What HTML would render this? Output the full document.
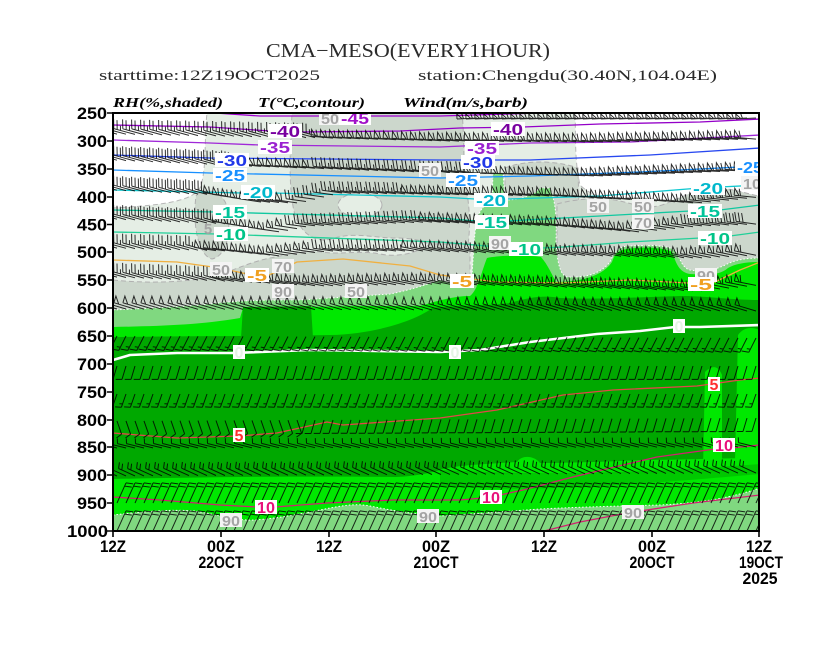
<!DOCTYPE html>
<html><head><meta charset="utf-8"><style>
html,body{margin:0;padding:0;background:#fff;width:837px;height:647px;overflow:hidden}
svg{display:block}
.t{font-family:"Liberation Serif",serif;fill:#2a2a2a}
.h{font-family:"Liberation Serif",serif;font-weight:bold;font-style:italic;font-size:14px;fill:#000}
.ax{font-family:"Liberation Sans",sans-serif;font-weight:bold;font-size:17px;fill:#000}
.lb{font-family:"Liberation Sans",sans-serif;font-weight:bold;font-size:16px}
.rh{font-family:"Liberation Sans",sans-serif;font-weight:bold;font-size:15px;fill:#a4a4a4}
</style></head><body>
<svg width="837" height="647" viewBox="0 0 837 647" xmlns="http://www.w3.org/2000/svg">
<defs><clipPath id="pc"><rect x="113" y="113" width="646" height="418"/></clipPath></defs>
<rect width="837" height="647" fill="#fff"/>

<text class="t" x="266" y="57" font-size="20" textLength="284" lengthAdjust="spacingAndGlyphs">CMA−MESO(EVERY1HOUR)</text>
<text class="t" x="99" y="80" font-size="15" textLength="221" lengthAdjust="spacingAndGlyphs">starttime:12Z19OCT2025</text>
<text class="t" x="418" y="80" font-size="15" textLength="299" lengthAdjust="spacingAndGlyphs">station:Chengdu(30.40N,104.04E)</text>
<text class="h" x="113" y="107" textLength="110" lengthAdjust="spacingAndGlyphs">RH(%,shaded)</text>
<text class="h" x="258" y="107" textLength="107" lengthAdjust="spacingAndGlyphs">T(°C,contour)</text>
<text class="h" x="403" y="107" textLength="125" lengthAdjust="spacingAndGlyphs">Wind(m/s,barb)</text>

<g clip-path="url(#pc)">
<rect x="113" y="113" width="646" height="418" fill="#fff"/>
<rect x="113" y="113" width="646" height="215" fill="#e5eee5"/>
<path d="M113,113 L207,113 C204,140 207,170 200,188 C192,200 170,205 113,208 Z" fill="#fff" stroke="#b8b8b8" stroke-dasharray="5 3"/>
<path d="M575,113 L760,113 L760,197 C745,196 730,188 715,190 C700,192 690,198 670,200 C650,200 640,196 625,198 C605,200 590,195 580,185 C574,160 576,130 575,113 Z" fill="#fff" stroke="#b8b8b8" stroke-dasharray="5 3"/>
<g fill="#ccd7cc" stroke="#b0b0b0" stroke-dasharray="5 3">
<path d="M292,113 L462,113 C465,140 462,170 468,200 C470,215 470,230 468,245 L430,245 C422,240 410,238 395,238 C375,238 355,232 335,238 C318,244 302,236 295,215 C288,190 290,150 292,113 Z"/>
<path d="M196,196 C204,186 224,190 228,210 C231,235 226,256 212,259 C199,256 192,226 196,196 Z"/>
<path d="M113,280 C150,284 190,282 215,276 C235,270 250,262 270,258 C290,254 305,250 322,252 C340,255 360,250 380,254 C400,258 418,252 430,244 L470,244 L470,330 L113,330 Z"/>
<path d="M505,168 C525,160 555,160 578,168 L580,250 L505,250 Z"/>
<path d="M557,204 C575,199 600,197 615,200 C632,203 645,210 662,205 C682,198 700,186 720,188 C740,190 750,195 760,196 L760,330 L557,330 Z"/>
</g>
<ellipse cx="360" cy="205" rx="22" ry="12" fill="#e5eee5" stroke="#b0b0b0" stroke-dasharray="5 3"/>
<path d="M113,310 C150,308 180,307 210,304 C240,300 270,300 300,300 C330,298 360,296 390,294 C410,290 425,285 440,280 C455,285 465,285 472,275 L474,245 C476,215 480,205 492,203 L493,173 L503,173 L505,200 C520,200 535,195 540,188 L550,188 C555,200 557,215 556,240 C557,262 560,275 567,277 C585,278 600,274 610,262 C615,250 620,246 630,246 C650,245 665,245 675,250 C680,258 682,268 690,270 C705,272 715,270 725,265 C735,260 745,258 760,258 L760,340 L113,340 Z" fill="#80d880" stroke="#fff" stroke-dasharray="1.5 2"/>
<path d="M113,327 C160,326 200,325 240,318 L243,308 L310,307 C340,306 380,306 420,306 C440,300 455,296 470,296 C478,290 482,270 487,258 C500,255 530,255 541,257 C548,265 552,275 556,282 C570,282 600,280 612,262 C615,252 620,249 635,248 C650,247 665,248 672,252 C676,262 678,272 690,274 C710,275 720,275 728,268 C735,264 745,262 760,262 L760,531 L113,531 Z" fill="#00e800"/>
<path d="M113,337 C200,336 280,336 330,335 C380,334 420,318 432,308 C460,305 490,306 510,303 C530,297 545,295 560,298 C600,300 640,297 680,296 C710,296 730,300 760,300 L760,458 C720,458 680,460 640,460 C600,462 560,463 540,463 C535,456 522,454 517,462 C480,464 450,466 440,470 C420,476 400,477 393,477 C300,476 200,477 113,479 Z" fill="#00a800"/>
<path d="M243,307 L311,306 L313,338 L241,338 Z" fill="#00a800"/>
<path d="M705,372 C712,365 718,365 722,375 L722,470 L703,470 Z" fill="#00e800"/>
<path d="M738,335 C745,325 755,328 760,330 L760,462 L735,462 Z" fill="#00e800"/>
<path d="M440,470 C520,474 600,476 760,464 L760,474 C600,488 520,492 440,486 Z" fill="#00c800"/>
<path d="M113,515 C140,512 170,509 195,511 C215,514 235,521 255,520 C280,518 300,514 320,510 C340,506 355,503 370,506 C390,510 410,514 440,516 C470,514 500,512 540,509 C580,507 620,506 660,505 C700,503 730,498 760,488 L760,531 L113,531 Z" fill="#80d880" stroke="#fff" stroke-dasharray="1.5 2"/>

<g fill="none" stroke-linejoin="round" stroke-width="1.3">
<polyline stroke="#a000d0" points="215,113 260,116 440,116 540,113"/>
<polyline stroke="#9400c8" points="113,125 210,127 270,131 300,132 400,131 460,128 523,127 600,124 700,122 760,119"/>
<polyline stroke="#a028d8" points="113,140 210,143 260,145 440,147 530,143 630,142 760,135"/>
<polyline stroke="#2848f0" points="113,155 210,158 440,160 530,160 650,155 760,148"/>
<polyline stroke="#1890ff" points="113,170 210,173 440,178 530,176 640,172 760,166"/>
<polyline stroke="#10c8d0" points="113,190 242,193 273,193 440,197 475,199 507,199 600,196 700,188 760,185"/>
<polyline stroke="#10c8a0" points="113,210 215,212 440,218 477,221 507,221 600,216 690,211 720,210 760,205"/>
<polyline stroke="#20d098" points="113,232 217,234 440,242 510,248 542,248 563,247 630,242 700,238 730,236 760,232"/>
<polyline stroke="#f0b040" points="113,260 177,262 220,268 247,274 267,276 297,262 343,259 410,266 440,275 497,282 563,283 630,280 688,283 715,282 740,270 760,262"/>
<polyline stroke="#ffffff" stroke-width="2.6" points="113,360 130,355 177,353 233,353 310,350 440,352 480,350 530,342 597,334 640,331 675,327 700,327 760,325"/>
<polyline stroke="#e04848" points="113,433 177,438 239,436 277,433 327,422 343,425 440,418 497,410 563,395 613,390 697,386 740,380 760,378"/>
<polyline stroke="#d02070" points="113,497 160,500 220,505 258,507 275,507 327,503 393,500 460,500 482,498 500,495 523,490 573,477 623,465 657,457 715,449 733,448 759,445"/>
<polyline stroke="#d02070" points="544,531 580,522 627,513 693,503 760,495"/>
</g>

<path id="barbs" d="" fill="none" stroke="#000" stroke-width="1" stroke-opacity="0.82"/>

<g class="rh">
<rect x="319" y="111" width="22" height="14" fill="#f4f4f4"/><text x="330" y="124" text-anchor="middle" textLength="18" lengthAdjust="spacingAndGlyphs">50</text>
<rect x="419" y="163" width="22" height="14" fill="#f4f4f4"/><text x="430" y="176" text-anchor="middle" textLength="18" lengthAdjust="spacingAndGlyphs">50</text>
<rect x="587" y="199" width="22" height="14" fill="#f4f4f4"/><text x="598" y="212" text-anchor="middle" textLength="18" lengthAdjust="spacingAndGlyphs">50</text>
<rect x="632" y="199" width="22" height="14" fill="#f4f4f4"/><text x="643" y="212" text-anchor="middle" textLength="18" lengthAdjust="spacingAndGlyphs">50</text>
<rect x="632" y="215" width="22" height="14" fill="#f4f4f4"/><text x="643" y="228" text-anchor="middle" textLength="18" lengthAdjust="spacingAndGlyphs">70</text>
<rect x="741" y="176" width="22" height="14" fill="#f4f4f4"/><text x="752" y="189" text-anchor="middle" textLength="18" lengthAdjust="spacingAndGlyphs">10</text>
<rect x="210" y="262" width="22" height="14" fill="#f4f4f4"/><text x="221" y="275" text-anchor="middle" textLength="18" lengthAdjust="spacingAndGlyphs">50</text>
<rect x="272" y="259" width="22" height="14" fill="#f4f4f4"/><text x="283" y="272" text-anchor="middle" textLength="18" lengthAdjust="spacingAndGlyphs">70</text>
<rect x="272" y="284" width="22" height="14" fill="#f4f4f4"/><text x="283" y="297" text-anchor="middle" textLength="18" lengthAdjust="spacingAndGlyphs">90</text>
<rect x="345" y="284" width="22" height="14" fill="#f4f4f4"/><text x="356" y="297" text-anchor="middle" textLength="18" lengthAdjust="spacingAndGlyphs">50</text>
<rect x="489" y="236" width="22" height="14" fill="#f4f4f4"/><text x="500" y="249" text-anchor="middle" textLength="18" lengthAdjust="spacingAndGlyphs">90</text>
<rect x="695" y="268" width="22" height="14" fill="#f4f4f4"/><text x="706" y="281" text-anchor="middle" textLength="18" lengthAdjust="spacingAndGlyphs">90</text>
<rect x="220" y="513" width="22" height="14" fill="#f4f4f4"/><text x="231" y="526" text-anchor="middle" textLength="18" lengthAdjust="spacingAndGlyphs">90</text>
<rect x="417" y="509" width="22" height="14" fill="#f4f4f4"/><text x="428" y="522" text-anchor="middle" textLength="18" lengthAdjust="spacingAndGlyphs">90</text>
<rect x="622" y="505" width="22" height="14" fill="#f4f4f4"/><text x="633" y="518" text-anchor="middle" textLength="18" lengthAdjust="spacingAndGlyphs">90</text>
<text x="208" y="234" text-anchor="middle">5</text>
</g>

<g class="lb" text-anchor="middle">
<rect x="339" y="111" width="32" height="14" fill="#fff"/><text x="355" y="124" fill="#a010c8" textLength="28" lengthAdjust="spacingAndGlyphs">-45</text>
<rect x="268" y="124" width="34" height="14" fill="#fff"/><text x="285" y="137" fill="#7800a0" textLength="30" lengthAdjust="spacingAndGlyphs">-40</text>
<rect x="491" y="122" width="34" height="14" fill="#fff"/><text x="508" y="135" fill="#7800a0" textLength="30" lengthAdjust="spacingAndGlyphs">-40</text>
<rect x="258" y="140" width="34" height="14" fill="#fff"/><text x="275" y="153" fill="#9a20d0" textLength="30" lengthAdjust="spacingAndGlyphs">-35</text>
<rect x="465" y="141" width="34" height="14" fill="#fff"/><text x="482" y="154" fill="#9a20d0" textLength="30" lengthAdjust="spacingAndGlyphs">-35</text>
<rect x="215" y="153" width="34" height="14" fill="#fff"/><text x="232" y="166" fill="#2038e8" textLength="30" lengthAdjust="spacingAndGlyphs">-30</text>
<rect x="461" y="155" width="34" height="14" fill="#fff"/><text x="478" y="168" fill="#2038e8" textLength="30" lengthAdjust="spacingAndGlyphs">-30</text>
<rect x="213" y="168" width="34" height="14" fill="#fff"/><text x="230" y="181" fill="#1890ff" textLength="30" lengthAdjust="spacingAndGlyphs">-25</text>
<rect x="446" y="173" width="34" height="14" fill="#fff"/><text x="463" y="186" fill="#1890ff" textLength="30" lengthAdjust="spacingAndGlyphs">-25</text>
<rect x="735" y="160" width="30" height="14" fill="#fff"/><text x="750" y="173" fill="#1890ff" textLength="26" lengthAdjust="spacingAndGlyphs">-25</text>
<rect x="241" y="185" width="34" height="14" fill="#fff"/><text x="258" y="198" fill="#00b8cc" textLength="30" lengthAdjust="spacingAndGlyphs">-20</text>
<rect x="474" y="193" width="34" height="14" fill="#fff"/><text x="491" y="206" fill="#00b8cc" textLength="30" lengthAdjust="spacingAndGlyphs">-20</text>
<rect x="691" y="181" width="34" height="14" fill="#fff"/><text x="708" y="194" fill="#00b8cc" textLength="30" lengthAdjust="spacingAndGlyphs">-20</text>
<rect x="213" y="205" width="34" height="14" fill="#fff"/><text x="230" y="218" fill="#00c49a" textLength="30" lengthAdjust="spacingAndGlyphs">-15</text>
<rect x="475" y="215" width="34" height="14" fill="#fff"/><text x="492" y="228" fill="#00c49a" textLength="30" lengthAdjust="spacingAndGlyphs">-15</text>
<rect x="688" y="204" width="34" height="14" fill="#fff"/><text x="705" y="217" fill="#00c49a" textLength="30" lengthAdjust="spacingAndGlyphs">-15</text>
<rect x="214" y="227" width="34" height="14" fill="#fff"/><text x="231" y="240" fill="#00c488" textLength="30" lengthAdjust="spacingAndGlyphs">-10</text>
<rect x="509" y="242" width="34" height="14" fill="#fff"/><text x="526" y="255" fill="#00c488" textLength="30" lengthAdjust="spacingAndGlyphs">-10</text>
<rect x="698" y="231" width="34" height="14" fill="#fff"/><text x="715" y="244" fill="#00c488" textLength="30" lengthAdjust="spacingAndGlyphs">-10</text>
<rect x="245" y="268" width="24" height="14" fill="#fff"/><text x="257" y="281" fill="#f0a020" textLength="20" lengthAdjust="spacingAndGlyphs">-5</text>
<rect x="450" y="274" width="24" height="14" fill="#fff"/><text x="462" y="287" fill="#f0a020" textLength="20" lengthAdjust="spacingAndGlyphs">-5</text>
<rect x="688" y="277" width="26" height="14" fill="#fff"/><text x="701" y="290" fill="#f0a020" textLength="22" lengthAdjust="spacingAndGlyphs">-5</text>
<rect x="233" y="345" width="12" height="14" fill="#fff"/><text x="239" y="358" fill="#e4f4e4">0</text>
<rect x="449" y="345" width="12" height="14" fill="#fff"/><text x="455" y="358" fill="#e4f4e4">0</text>
<rect x="673" y="319" width="12" height="14" fill="#fff"/><text x="679" y="332" fill="#e4f4e4">0</text>
<rect x="233" y="428" width="12" height="14" fill="#fff"/><text x="239" y="441" fill="#ff3030">5</text>
<rect x="708" y="377" width="12" height="14" fill="#fff"/><text x="714" y="390" fill="#ff3030">5</text>
<rect x="255" y="500" width="22" height="14" fill="#fff"/><text x="266" y="513" fill="#e8107a" textLength="18" lengthAdjust="spacingAndGlyphs">10</text>
<rect x="480" y="490" width="22" height="14" fill="#fff"/><text x="491" y="503" fill="#e8107a" textLength="18" lengthAdjust="spacingAndGlyphs">10</text>
<rect x="713" y="438" width="22" height="14" fill="#fff"/><text x="724" y="451" fill="#e8107a" textLength="18" lengthAdjust="spacingAndGlyphs">10</text>
</g>
</g>

<rect x="113" y="113" width="646" height="418" fill="none" stroke="#000" stroke-width="2"/>
<g stroke="#000" stroke-width="1.6">
<path d="M107,113H113M107,141H113M107,169H113M107,197H113M107,224.5H113M107,252H113M107,280H113M107,308H113M107,336H113M107,364H113M107,392H113M107,420H113M107,447H113M107,475H113M107,503H113M107,531H113"/>
<path d="M113,531V537M221,531V537M329,531V537M436,531V537M544,531V537M652,531V537M759,531V537"/>
</g>
<g class="ax" text-anchor="end">
<text x="107" y="119" textLength="30" lengthAdjust="spacingAndGlyphs">250</text>
<text x="107" y="147" textLength="30" lengthAdjust="spacingAndGlyphs">300</text>
<text x="107" y="175" textLength="30" lengthAdjust="spacingAndGlyphs">350</text>
<text x="107" y="203" textLength="30" lengthAdjust="spacingAndGlyphs">400</text>
<text x="107" y="230.5" textLength="30" lengthAdjust="spacingAndGlyphs">450</text>
<text x="107" y="258" textLength="30" lengthAdjust="spacingAndGlyphs">500</text>
<text x="107" y="286" textLength="30" lengthAdjust="spacingAndGlyphs">550</text>
<text x="107" y="314" textLength="30" lengthAdjust="spacingAndGlyphs">600</text>
<text x="107" y="342" textLength="30" lengthAdjust="spacingAndGlyphs">650</text>
<text x="107" y="370" textLength="30" lengthAdjust="spacingAndGlyphs">700</text>
<text x="107" y="398" textLength="30" lengthAdjust="spacingAndGlyphs">750</text>
<text x="107" y="426" textLength="30" lengthAdjust="spacingAndGlyphs">800</text>
<text x="107" y="453" textLength="30" lengthAdjust="spacingAndGlyphs">850</text>
<text x="107" y="481" textLength="30" lengthAdjust="spacingAndGlyphs">900</text>
<text x="107" y="509" textLength="30" lengthAdjust="spacingAndGlyphs">950</text>
<text x="108" y="537" textLength="41" lengthAdjust="spacingAndGlyphs">1000</text>
</g>
<g class="ax" text-anchor="middle">
<text x="113" y="552" textLength="26" lengthAdjust="spacingAndGlyphs">12Z</text>
<text x="221" y="552" textLength="28" lengthAdjust="spacingAndGlyphs">00Z</text>
<text x="221" y="568" textLength="45" lengthAdjust="spacingAndGlyphs">22OCT</text>
<text x="329" y="552" textLength="26" lengthAdjust="spacingAndGlyphs">12Z</text>
<text x="436" y="552" textLength="28" lengthAdjust="spacingAndGlyphs">00Z</text>
<text x="436" y="568" textLength="45" lengthAdjust="spacingAndGlyphs">21OCT</text>
<text x="544" y="552" textLength="26" lengthAdjust="spacingAndGlyphs">12Z</text>
<text x="652" y="552" textLength="28" lengthAdjust="spacingAndGlyphs">00Z</text>
<text x="652" y="568" textLength="45" lengthAdjust="spacingAndGlyphs">20OCT</text>
<text x="759" y="552" textLength="26" lengthAdjust="spacingAndGlyphs">12Z</text>
<text x="761" y="568" textLength="44" lengthAdjust="spacingAndGlyphs">19OCT</text>
<text x="760" y="584" textLength="35" lengthAdjust="spacingAndGlyphs">2025</text>
</g>
</svg>
<script>
(function(){
var rows=[
{p:[[113,118],[760,118]],s:[[470,760,-1,0.05,20,1,1,0,5]]},
{p:[[113,134],[330,138],[450,141],[600,142],[760,139]],s:[[113,330,-22,-6,22,0,2,1,9],[330,760,-1,-0.08,22,1,1,0,7]]},
{p:[[113,160],[250,166],[420,172],[600,176],[760,170]],s:[[113,250,-22,-6,22,0,3,0,9],[250,330,-1,-0.1,22,1,1,0,7],[330,480,-22,-3,20,0,2,1,9],[480,760,-1,-0.05,22,1,1,0,7]]},
{p:[[113,190],[220,195],[260,202],[300,203],[340,193],[560,196],[700,203],[760,197]],s:[[113,220,-22,-6,22,0,3,0,9],[220,300,-1,-0.15,22,1,1,0,7],[300,420,-22,-3,20,0,2,1,9],[420,760,-1,-0.1,22,1,1,0,7]]},
{p:[[113,219],[230,224],[280,232],[310,226],[430,222],[560,226],[640,232],[700,226],[760,224]],s:[[113,230,-22,-6,22,0,3,0,9],[230,300,-1,-0.15,22,1,1,0,7],[300,440,-22,-3,20,0,2,1,9],[440,700,-1,-0.15,22,1,1,0,7],[700,760,-22,-3,20,0,3,0,9]]},
{p:[[113,248],[230,251],[280,256],[330,251],[430,251],[560,255],[700,258],[760,255]],s:[[113,210,-22,-6,22,0,2,1,9],[210,330,-1,-0.15,22,1,1,0,7],[330,420,-22,-3,20,0,2,1,9],[420,760,-1,-0.2,22,1,1,0,7]]},
{p:[[113,277],[250,282],[320,286],[440,284],[600,288],[700,291],[760,285]],s:[[113,230,-22,-6,22,0,2,1,9],[230,760,-1,-0.2,22,1,1,0,7]]},
{p:[[113,309],[760,311]],s:[[113,760,-1,-0.3,22,1,0,0,7]]},
{p:[[113,336],[760,338]],s:[[113,760,-0.5,1,16,0,1,1,7]]},
{p:[[113,366],[760,366]],s:[[113,760,-0.3,1,14,0,1,0,6]]},
{p:[[113,394],[760,394]],s:[[113,760,-0.35,1,14,0,1,1,6]]},
{p:[[113,421],[760,418]],s:[[113,300,0.35,1,14,0,1,0,6],[300,760,-0.3,1,14,0,1,0,6]]},
{p:[[113,448],[760,447]],s:[[113,760,-1,-0.25,18,0,1,0,5]]},
{p:[[113,476],[760,473]],s:[[113,760,-1,-0.45,18,0,2,0,6]]},
{p:[[113,503],[760,503]],s:[[113,760,0.45,-1,22,0,2,0,7]]},
{p:[[113,531],[760,531]],s:[[113,760,0.45,-1,22,0,2,0,7]]}
];
function yAt(p,x){for(var i=0;i<p.length-1;i++){if(x<=p[i+1][0]){var t=(x-p[i][0])/(p[i+1][0]-p[i][0]);return p[i][1]+t*(p[i+1][1]-p[i][1]);}}return p[p.length-1][1];}
function f(v){return Math.round(v*10)/10;}
var out=[];
rows.forEach(function(r){
 for(var x=117;x<760;x+=9){
  var y=yAt(r.p,x);
  r.s.forEach(function(s){
   if(x>=s[0]&&x<s[1]){
    var dx=s[2],dy=s[3],m=Math.sqrt(dx*dx+dy*dy);dx/=m;dy/=m;
    var L=s[4],np=s[5],nf=s[6],nh=s[7],F=s[8],px=-dy,py=dx,i,ax,ay;
    var d='M'+f(x)+','+f(y)+'L'+f(x+dx*L)+','+f(y+dy*L);
    var pos=L;
    for(i=0;i<np;i++){ax=x+dx*pos;ay=y+dy*pos;d+='M'+f(ax)+','+f(ay)+'L'+f(ax+px*F)+','+f(ay+py*F)+'L'+f(x+dx*(pos-5))+','+f(y+dy*(pos-5));pos-=6.5;}
    for(i=0;i<nf;i++){ax=x+dx*pos;ay=y+dy*pos;d+='M'+f(ax)+','+f(ay)+'l'+f(px*F+dx*F*0.3)+','+f(py*F+dy*F*0.3);pos-=3.5;}
    for(i=0;i<nh;i++){ax=x+dx*pos;ay=y+dy*pos;d+='M'+f(ax)+','+f(ay)+'l'+f((px*F+dx*F*0.3)*0.5)+','+f((py*F+dy*F*0.3)*0.5);pos-=3.5;}
    out.push(d);
   }
  });
 }
});
document.getElementById('barbs').setAttribute('d',out.join(''));
})();
</script>
</body></html>
